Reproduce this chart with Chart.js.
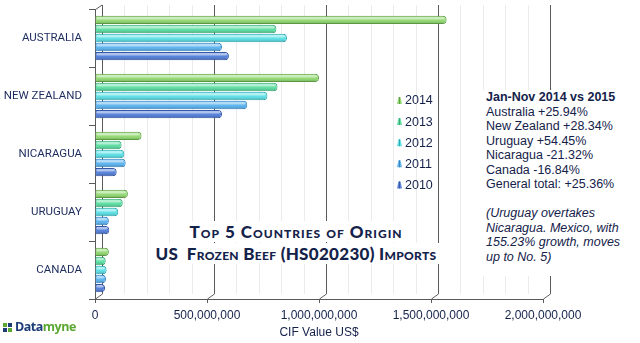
<!DOCTYPE html>
<html>
<head>
<meta charset="utf-8">
<script src="https://cdn.jsdelivr.net/npm/chart.js@4.4.1/dist/chart.umd.min.js"></script>
<style>
  html, body { margin:0; padding:0; background:#fff; }
  #wrap { position:relative; width:640px; height:343px; overflow:hidden; }
  canvas { position:absolute; left:0; top:0; }
  .ov { position:absolute; color:#14224a; }
  #title { left:111px; width:370px; top:221px; text-align:center; font-family:"Lato","DejaVu Sans",sans-serif; font-weight:900; font-variant:small-caps; font-size:17px; line-height:22px; }
  #title span { background:#fff; padding:0 3px; }
  #t1 { letter-spacing:1.0px; }
  #t2 { letter-spacing:0.3px; }
  #note { left:482px; top:90px; width:158px; height:186px; background:#fff; font-family:"Liberation Sans","Arial",sans-serif; font-size:12.5px; line-height:14.5px; padding-left:4px; box-sizing:border-box; }
  #note b { font-weight:bold; }
  #note i { display:block; margin-top:14.5px; }
  #logo { left:3px; top:318px; font-family:"Open Sans","DejaVu Sans",sans-serif; font-weight:700; font-size:12.5px; letter-spacing:-0.5px; }
  #logo .a { color:#1b3a78; }
  #logo .b { color:#5aa832; }
  #logo .ic { display:inline-block; width:11px; height:9px; position:relative; margin-right:1px; vertical-align:-1px; }
  #logo .ic s { position:absolute; width:4px; height:4px; }
</style>
</head>
<body>
<div id="wrap">
  <canvas id="c" width="640" height="343"></canvas>
  <div id="title" class="ov"><span id="t1">Top 5 Countries of Origin</span><br><span id="t2">US&nbsp; Frozen Beef (HS020230) Imports</span></div>
  <div id="note" class="ov"><b>Jan-Nov 2014 vs 2015</b><br>Australia +25.94%<br>New Zealand +28.34%<br>Uruguay +54.45%<br>Nicaragua -21.32%<br>Canada -16.84%<br>General total: +25.36%<i>(Uruguay overtakes<br>Nicaragua. Mexico, with<br>155.23% growth, moves<br>up to No. 5)</i></div>
  <div id="logo" class="ov"><span class="ic"><s style="left:0;top:0;background:#5aa832"></s><s style="left:5px;top:0;background:#1b3a78"></s><s style="left:0;top:5px;background:#1b3a78"></s><s style="left:5px;top:5px;background:#5aa832"></s></span><span class="a">Data</span><span class="b">myne</span></div>
</div>
<script>
const categories = ['AUSTRALIA', 'NEW ZEALAND', 'NICARAGUA', 'URUGUAY', 'CANADA'];
const years = ['2014', '2013', '2012', '2011', '2010'];
const v2014 = [1570000000, 1000000000, 208000000, 147000000, 62000000];
const v2013 = [810000000, 815000000, 119000000, 124000000, 48000000];
const v2012 = [857000000, 770000000, 131000000, 104000000, 52000000];
const v2011 = [567000000, 680000000, 137000000, 62000000, 49000000];
const v2010 = [598000000, 567000000, 97000000, 64000000, 45000000];
const xTickValues = [0, 500000000, 1000000000, 1500000000, 2000000000];

const seriesValues = [v2014, v2013, v2012, v2011, v2010];
const fills = ['#96da78', '#63dfa6', '#62e0e6', '#62b6ef', '#5a84da'];
const edges = ['#5f9f45', '#38a878', '#30a9b2', '#3684c4', '#3457a6'];

const datasets = years.map((y, i) => ({
  label: y,
  data: seriesValues[i],
  backgroundColor: fills[i],
  borderColor: edges[i],
  borderWidth: 1,
  borderRadius: 4,
  borderSkipped: 'start',
  barPercentage: 0.93,
  categoryPercentage: 0.78
}));

const gloss = {
  id: 'gloss',
  afterDatasetsDraw(chart) {
    const ctx = chart.ctx;
    chart.data.datasets.forEach((ds, di) => {
      chart.getDatasetMeta(di).data.forEach(bar => {
        const p = bar.getProps(['x', 'y', 'base', 'height'], true);
        const top = p.y - p.height / 2, h = p.height;
        const w = Math.max(0, p.x - p.base - 3);
        ctx.save();
        ctx.fillStyle = 'rgba(255,255,255,0.5)';
        ctx.beginPath();
        ctx.roundRect(p.base + 1, top + 1.2, w, h * 0.3, 2);
        ctx.fill();
        ctx.fillStyle = 'rgba(0,0,0,0.10)';
        ctx.fillRect(p.base + 1, top + h * 0.7, w, h * 0.22);
        ctx.restore();
      });
    });
  }
};

const backGrid = {
  id: 'backGrid',
  beforeDatasetsDraw(chart) {
    const ctx = chart.ctx, xs = chart.scales.x, a = chart.chartArea;
    const off = 7;
    ctx.save();
    ctx.lineWidth = 1;
    for (let v = 0; v <= 2000000000; v += 100000000) {
      const x = Math.round(xs.getPixelForValue(v)) + 0.5;
      const major = xTickValues.includes(v);
      ctx.strokeStyle = major ? '#5a5a5a' : '#ebebeb';
      ctx.beginPath();
      ctx.moveTo(x + off, a.top - 4);
      ctx.lineTo(x + off, a.bottom - 5);
      if (major) ctx.lineTo(x, a.bottom);
      ctx.stroke();
    }
    ctx.strokeStyle = '#5a5a5a';
    ctx.beginPath();
    ctx.moveTo(a.left, a.top + 1);
    ctx.lineTo(a.left + off, a.top - 4);
    ctx.stroke();
    ctx.restore();
  }
};

const legendPlug = {
  id: 'legendPlug',
  afterDraw(chart) {
    const ctx = chart.ctx;
    ctx.save();
    ctx.font = '12.5px "Liberation Sans", Arial, sans-serif';
    ctx.textBaseline = 'middle';
    chart.data.datasets.forEach((ds, i) => {
      const y = 100.5 + i * 21.1;
      const x = 399;
      ctx.fillStyle = ds.backgroundColor;
      ctx.beginPath();
      ctx.moveTo(x - 2, y + 3.5);
      ctx.lineTo(x + 3, y + 3.5);
      ctx.lineTo(x + 1.5, y - 3.5);
      ctx.lineTo(x - 0.5, y - 3.5);
      ctx.closePath();
      ctx.fill();
      ctx.fillStyle = ds.borderColor;
      ctx.fillRect(x, y - 3.5, 1, 7);
      ctx.fillStyle = '#14224a';
      ctx.fillText(ds.label, x + 6, y + 0.5);
    });
    ctx.restore();
  }
};

new Chart(document.getElementById('c'), {
  type: 'bar',
  data: { labels: categories, datasets },
  options: {
    indexAxis: 'y',
    responsive: false,
    devicePixelRatio: 1,
    animation: false,
    layout: { padding: { top: 9, right: 97, left: 0, bottom: 0 } },
    plugins: { legend: { display: false }, tooltip: { enabled: false } },
    scales: {
      x: {
        min: 0, max: 2000000000,
        afterFit(s) { s.height = 44; },
        afterBuildTicks(s) {
          const t = [];
          for (let v = 0; v <= 2000000000; v += 100000000) t.push({ value: v });
          s.ticks = t;
        },
        ticks: {
          autoSkip: false, maxRotation: 0, padding: 5,
          color: '#14224a',
          font: { family: '"Liberation Sans", Arial, sans-serif', size: 12 },
          callback(v) { return xTickValues.includes(v) ? v.toLocaleString('en-US') : ''; }
        },
        grid: {
          drawOnChartArea: false, tickLength: 4,
          tickColor: c => (c.tick && xTickValues.includes(c.tick.value)) ? '#5a5a5a' : 'rgba(0,0,0,0)'
        },
        border: { display: true, color: '#5a5a5a' },
        title: {
          display: true, text: 'CIF Value US$', color: '#14224a',
          font: { family: '"Liberation Sans", Arial, sans-serif', size: 12 },
          padding: { top: 0, bottom: 3 }
        }
      },
      y: {
        afterFit(s) { s.width = 95; s.paddingTop = 0; s.paddingBottom = 0; },
        ticks: {
          color: '#1c2c5e', padding: 7,
          font: { family: 'Roboto, "Liberation Sans", sans-serif', size: 11.5 }
        },
        grid: { drawOnChartArea: false, tickLength: 6, offset: true, color: '#5a5a5a' },
        border: { display: true, color: '#5a5a5a' }
      }
    }
  },
  plugins: [backGrid, gloss, legendPlug]
});
</script>
</body>
</html>
